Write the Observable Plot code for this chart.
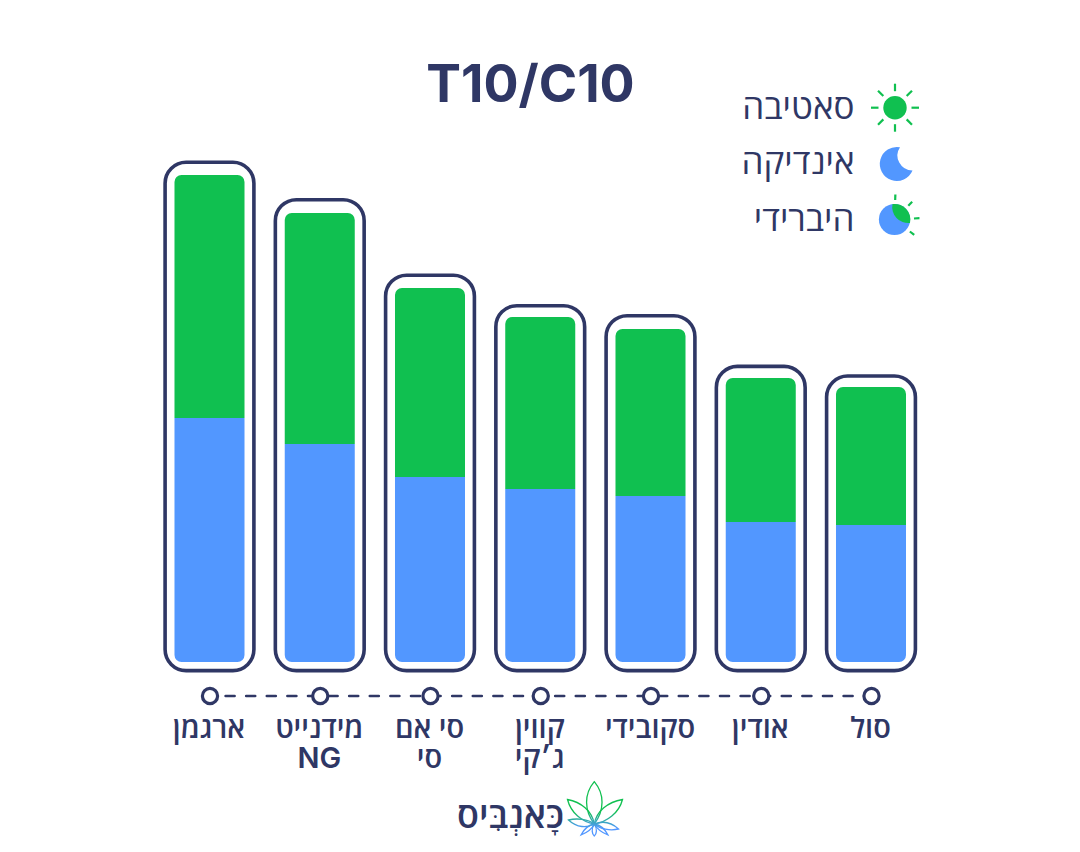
<!DOCTYPE html>
<html lang="he">
<head>
<meta charset="utf-8">
<script src="https://cdn.jsdelivr.net/npm/d3@7"></script>
<script src="https://cdn.jsdelivr.net/npm/@observablehq/plot@0.6"></script>
<style>html,body{margin:0;padding:0;background:#fff}svg{display:block}</style>
</head>
<body>
<div id="chart"></div>
<script>
const strains = ["ארגמן", "מידנייט\nNG", "סי אם\nסי", "קווין\nג׳קי", "סקובידי", "אודין", "סול"];
const c10 = [12.2, 10.9, 9.25, 8.65, 8.3, 7.0, 6.85];
const t10 = [12.15, 11.55, 9.45, 8.6, 8.35, 7.2, 6.9];
const frameTop = [24.985, 23.115, 19.34, 17.815, 17.315, 14.78, 14.3];
const legendLabels = ["סאטיבה", "אינדיקה", "היברידי"];
const titleText = "T10/C10";
const logoText = "כָּאנְבִּיס";

const ink = "#2f3765", green = "#10c050", blue = "#5297ff";
const font = "Inter,'Open Sans','Liberation Sans','DejaVu Sans',sans-serif";
const rows = strains.map((s, i) => ({strain: s, c10: c10[i], t10: t10[i], total: c10[i] + t10[i], frame: frameTop[i]}));
const legendRowY = [107, 162, 219];

const plot = Plot.plot({
  width: 1080, height: 852,
  margin: 0,
  style: {background: "#fff", fontFamily: font, overflow: "visible"},
  x: {domain: strains, range: [154.375, 926.125], paddingInner: 0.365, paddingOuter: 0.1825, round: false, axis: null},
  y: {domain: [-9.5, 33.1], range: [852, 0], axis: null},
  marks: [
    Plot.barY(rows, {x: "strain", y1: 0, y2: "frame", fill: "none", stroke: ink, strokeWidth: 3.6,
      r: 21, insetLeft: -9.4, insetRight: -9.4, insetBottom: -8.6}),
    Plot.barY(rows, {x: "strain", y1: "c10", y2: "total", fill: green, rx1y1: 7, rx2y1: 7}),
    Plot.barY(rows, {x: "strain", y1: 0, y2: "c10", fill: blue, rx1y2: 7, rx2y2: 7}),
    Plot.line(rows, {x: "strain", y: () => 0, dy: 33.5, stroke: ink, strokeWidth: 2.6, strokeDasharray: "9 11.6", strokeDashoffset: 5}),
    Plot.dot(rows, {x: "strain", y: () => 0, dy: 33.5, r: 7.6, fill: "#fff", stroke: ink, strokeWidth: 3.2}),
    Plot.text(rows, {x: "strain", y: () => 0, dy: 54, dx: -1, text: "strain", lineAnchor: "top", lineHeight: 1.04,
      fontSize: 29, fontWeight: 600, fill: ink, textAnchor: "middle"}),
    Plot.text([titleText], {frameAnchor: "top-left", dx: 530, dy: 85, text: d => d, lineAnchor: "middle", textAnchor: "middle", fontSize: 52, fontWeight: 700, fill: ink}),
    ...legendLabels.map((label, i) => Plot.text([label], {frameAnchor: "top-left", dx: 854, dy: legendRowY[i], text: d => d, fontSize: 35, fill: ink, textAnchor: "end", lineAnchor: "middle"})),
    Plot.text([logoText], {frameAnchor: "top-left", dx: 510, dy: 816, text: d => d, lineAnchor: "middle", textAnchor: "middle", fontSize: 36, fontWeight: 600, fill: ink})
  ]
});
document.getElementById("chart").append(plot);

// Legend icons and logo artwork
const svg = d3.select(plot);
const defs = svg.append("defs");
const grad = defs.append("linearGradient").attr("id", "leafGrad").attr("gradientUnits", "userSpaceOnUse")
  .attr("x1", 0).attr("y1", 782).attr("x2", 0).attr("y2", 836);
grad.append("stop").attr("offset", "0.55").attr("stop-color", green);
grad.append("stop").attr("offset", "0.85").attr("stop-color", blue);

function rays(cx, cy, angles, r0, r1) {
  const g = svg.append("g").attr("stroke", green).attr("stroke-width", 2.2);
  angles.forEach(a => {
    const t = a * Math.PI / 180;
    g.append("line").attr("x1", cx + r0 * Math.cos(t)).attr("y1", cy + r0 * Math.sin(t))
      .attr("x2", cx + r1 * Math.cos(t)).attr("y2", cy + r1 * Math.sin(t));
  });
}
// sun
svg.append("circle").attr("cx", 895).attr("cy", 107.7).attr("r", 11.7).attr("fill", green);
rays(895, 107.7, [0, 45, 90, 135, 180, 225, 270, 315], 16.5, 24);
// moon
svg.append("path").attr("fill", blue).attr("d", "M900,147.2 A17,17 0 1 0 912.5,170.5 A15,15 0 0 1 900,147.2 Z");
// hybrid
svg.append("circle").attr("cx", 894.5).attr("cy", 219.5).attr("r", 15.6).attr("fill", blue);
svg.append("path").attr("fill", green).attr("d", "M892.5,204.1 A15.6,15.6 0 0 1 910,223 A16,16 0 0 1 892.5,204.1 Z");
rays(894.5, 219.5, [-88, -45, -3, 38], 19.5, 25);
// leaf
const leaf = svg.append("g").attr("fill", "none").attr("stroke", "url(#leafGrad)").attr("stroke-width", 1.3);
[
  "M594.3,781.7 C584,794 584,810 594.3,824 C604.6,810 604.6,794 594.3,781.7 Z",
  "M567.5,799.5 C571,813 582,822 594.3,824 C592,811 581,802 567.5,799.5 Z",
  "M622.5,799.5 C619,813 607,822 594.3,824 C596.5,811 608,802 622.5,799.5 Z",
  "M568.5,820 C577,828 587,828 594.3,824 C588,819 577,818 568.5,820 Z",
  "M618.5,829 C611,822 602,821 594.3,824 C600,829 610,831 618.5,829 Z",
  "M581,835 C586,833 592,829 594.3,824 C589,825 584,829 581,835 Z",
  "M608,835 C603,833 597,829 594.3,824 C600,825 605,829 608,835 Z",
  "M594.3,824 C591,829 592,834 594.3,836 C596.6,834 597.6,829 594.3,824 Z"
].forEach(d => leaf.append("path").attr("d", d));
</script>
</body>
</html>
